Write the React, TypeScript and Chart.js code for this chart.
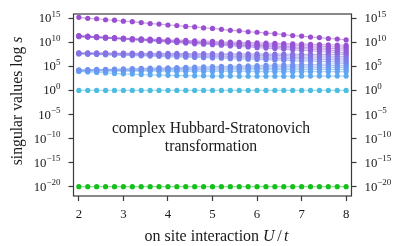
import React, { useEffect, useRef } from "react";
import { Chart, registerables } from "chart.js";

Chart.register(...registerables);

const U = [2, 2.2, 2.4, 2.6, 2.8, 3, 3.2, 3.4, 3.6, 3.8, 4, 4.2, 4.4, 4.6, 4.8, 5, 5.2, 5.4, 5.6, 5.8, 6, 6.2, 6.4, 6.6, 6.8, 7, 7.2, 7.4, 7.6, 7.8, 8];

// log10 of singular values, one array per singular value
const sTop = [15.2, 15.0, 14.9, 14.7, 14.6, 14.4, 14.3, 14.1, 13.9, 13.8, 13.6, 13.5, 13.3, 13.2, 13.0, 12.9, 12.7, 12.5, 12.4, 12.2, 12.1, 11.9, 11.8, 11.6, 11.4, 11.3, 11.1, 11.0, 10.8, 10.7, 10.5];
const sA1 = [11.4, 11.3, 11.2, 11.1, 11.0, 10.9, 10.8, 10.75, 10.7, 10.6, 10.5, 10.45, 10.4, 10.3, 10.25, 10.2, 10.1, 10.05, 10.0, 9.95, 9.9, 9.85, 9.8, 9.75, 9.7, 9.65, 9.6, 9.55, 9.5, 9.45, 9.4];
const sA2 = [11.3, 11.2, 11.1, 11.0, 10.9, 10.8, 10.7, 10.6, 10.5, 10.4, 10.3, 10.25, 10.2, 10.1, 10.0, 9.95, 9.9, 9.8, 9.75, 9.7, 9.6, 9.55, 9.5, 9.45, 9.4, 9.3, 9.25, 9.2, 9.1, 9.05, 9.0];
const sA3 = [11.3, 11.2, 11.1, 11.0, 10.9, 10.8, 10.7, 10.6, 10.5, 10.4, 10.3, 10.2, 10.1, 10.0, 9.9, 9.8, 9.7, 9.65, 9.55, 9.45, 9.4, 9.3, 9.2, 9.15, 9.05, 9.0, 8.9, 8.85, 8.75, 8.7, 8.6];
const sA4 = [11.2, 11.1, 11.0, 10.9, 10.8, 10.7, 10.6, 10.5, 10.4, 10.3, 10.2, 10.1, 10.0, 9.9, 9.8, 9.7, 9.6, 9.5, 9.4, 9.3, 9.2, 9.1, 9.0, 8.9, 8.8, 8.7, 8.6, 8.5, 8.4, 8.3, 8.2];
const sA5 = [11.2, 11.1, 11.0, 10.85, 10.75, 10.65, 10.5, 10.4, 10.3, 10.2, 10.05, 9.95, 9.85, 9.7, 9.6, 9.5, 9.4, 9.25, 9.15, 9.05, 8.9, 8.8, 8.7, 8.6, 8.45, 8.35, 8.25, 8.1, 8.0, 7.9, 7.8];
const sB1 = [7.8, 7.8, 7.8, 7.8, 7.75, 7.75, 7.75, 7.7, 7.7, 7.7, 7.7, 7.7, 7.65, 7.65, 7.65, 7.65, 7.6, 7.6, 7.6, 7.6, 7.6, 7.55, 7.55, 7.55, 7.55, 7.5, 7.5, 7.5, 7.5, 7.5, 7.5];
const sB2 = [7.75, 7.75, 7.7, 7.7, 7.65, 7.65, 7.6, 7.6, 7.6, 7.55, 7.55, 7.5, 7.5, 7.45, 7.45, 7.4, 7.4, 7.4, 7.35, 7.35, 7.3, 7.3, 7.25, 7.25, 7.2, 7.2, 7.2, 7.15, 7.15, 7.1, 7.1];
const sB3 = [7.7, 7.65, 7.6, 7.6, 7.55, 7.5, 7.5, 7.45, 7.4, 7.4, 7.35, 7.3, 7.3, 7.25, 7.2, 7.2, 7.15, 7.1, 7.1, 7.05, 7.0, 7.0, 6.95, 6.9, 6.9, 6.85, 6.8, 6.8, 6.75, 6.7, 6.7];
const sB4 = [7.65, 7.6, 7.55, 7.5, 7.45, 7.4, 7.4, 7.35, 7.3, 7.25, 7.2, 7.15, 7.1, 7.05, 7.0, 7.0, 6.95, 6.9, 6.85, 6.8, 6.75, 6.7, 6.65, 6.6, 6.6, 6.55, 6.5, 6.45, 6.4, 6.35, 6.3];
const sB5 = [7.6, 7.55, 7.5, 7.4, 7.35, 7.3, 7.25, 7.2, 7.15, 7.1, 7.0, 6.95, 6.9, 6.85, 6.8, 6.75, 6.7, 6.6, 6.55, 6.5, 6.45, 6.4, 6.35, 6.3, 6.2, 6.15, 6.1, 6.05, 6.0, 5.95, 5.9];
const sC1 = [4.3, 4.35, 4.4, 4.4, 4.45, 4.5, 4.55, 4.6, 4.65, 4.7, 4.7, 4.75, 4.8, 4.85, 4.9, 4.95, 5.0, 5.0, 5.05, 5.1, 5.15, 5.2, 5.25, 5.3, 5.3, 5.35, 5.4, 5.45, 5.5, 5.55, 5.6];
const sC2 = [4.2, 4.25, 4.25, 4.3, 4.35, 4.35, 4.4, 4.45, 4.45, 4.5, 4.55, 4.55, 4.6, 4.65, 4.65, 4.7, 4.75, 4.75, 4.8, 4.85, 4.85, 4.9, 4.95, 4.95, 5.0, 5.05, 5.05, 5.1, 5.15, 5.15, 5.2];
const sC3 = [4.15, 4.15, 4.2, 4.2, 4.2, 4.25, 4.25, 4.3, 4.3, 4.35, 4.35, 4.4, 4.4, 4.4, 4.45, 4.45, 4.5, 4.5, 4.55, 4.55, 4.6, 4.6, 4.6, 4.65, 4.65, 4.7, 4.7, 4.75, 4.75, 4.8, 4.8];
const sC4 = [4.1, 4.1, 4.1, 4.1, 4.15, 4.15, 4.15, 4.15, 4.2, 4.2, 4.2, 4.2, 4.2, 4.25, 4.25, 4.25, 4.25, 4.3, 4.3, 4.3, 4.3, 4.3, 4.35, 4.35, 4.35, 4.35, 4.35, 4.4, 4.4, 4.4, 4.4];
const sC5 = [4.05, 4.05, 4.05, 4.0, 4.0, 4.0, 4.0, 4.0, 4.0, 4.0, 3.95, 3.95, 3.95, 3.95, 3.95, 3.95, 3.95, 3.95, 3.95, 3.95, 3.9, 3.9, 3.9, 3.9, 3.9, 3.9, 3.9, 3.9, 3.9, 3.9, 3.9];
const sC6 = [3.95, 3.85, 3.75, 3.65, 3.55, 3.45, 3.4, 3.3, 3.25, 3.2, 3.15, 3.1, 3.1, 3.05, 3.05, 3.0, 3.0, 3.0, 2.95, 2.95, 2.95, 2.95, 2.95, 2.95, 2.95, 3.0, 3.0, 3.0, 3.0, 3.0, 3.0];
const sOne = [0, 0, 0, 0, 0, 0, 0, 0, 0, 0, 0, 0, 0, 0, 0, 0, 0, 0, 0, 0, 0, 0, 0, 0, 0, 0, 0, 0, 0, 0, 0];
const sZero = [-20, -20, -20, -20, -20, -20, -20, -20, -20, -20, -20, -20, -20, -20, -20, -20, -20, -20, -20, -20, -20, -20, -20, -20, -20, -20, -20, -20, -20, -20, -20];

const SERIES = [sTop, sA1, sA2, sA3, sA4, sA5, sB1, sB2, sB3, sB4, sB5, sC1, sC2, sC3, sC4, sC5, sC6, sOne, sZero];
const COLORS = [
  [154, 79, 208],
  [151, 82, 212], [148, 87, 214], [146, 91, 216], [143, 95, 218], [140, 99, 220],
  [134, 115, 226], [130, 120, 229], [126, 125, 232], [122, 130, 234], [118, 135, 236],
  [112, 146, 238], [108, 151, 239], [104, 156, 240], [100, 161, 241], [96, 166, 241], [92, 171, 241],
  [76, 189, 224],
  [21, 192, 29],
];

const Y_EXPONENTS = [-20, -15, -10, -5, 0, 5, 10, 15];
const X_TICKS = [2, 3, 4, 5, 6, 7, 8];

const FONT = '"Liberation Serif", "Times New Roman", serif';
const INK = "#1a1a1a";

function drawPow(ctx: CanvasRenderingContext2D, e: number, x: number, y: number, align: "left" | "right") {
  const base = "10";
  const exp = e < 0 ? "\u2212" + String(-e) : String(e);
  ctx.font = `12.8px ${FONT}`;
  const bw = ctx.measureText(base).width;
  ctx.font = `9px ${FONT}`;
  const ew = ctx.measureText(exp).width;
  const x0 = align === "right" ? x - bw - ew : x;
  ctx.textAlign = "left";
  ctx.textBaseline = "alphabetic";
  ctx.fillStyle = INK;
  ctx.font = `12.8px ${FONT}`;
  ctx.fillText(base, x0, y + 4);
  ctx.font = `9px ${FONT}`;
  ctx.fillText(exp, x0 + bw, y - 1.5);
}

const decorPlugin = {
  id: "decor",
  afterDraw(chart: any) {
    const ctx: CanvasRenderingContext2D = chart.ctx;
    const a = chart.chartArea;
    const ys = chart.scales.y;
    ctx.save();
    // frame
    ctx.strokeStyle = "#3a3a3a";
    ctx.lineWidth = 1.2;
    ctx.strokeRect(a.left, a.top, a.right - a.left, a.bottom - a.top);
    // y tick labels, both sides
    for (const e of Y_EXPONENTS) {
      const py = ys.getPixelForValue(Math.pow(10, e));
      drawPow(ctx, e, a.left - 13, py, "right");
      drawPow(ctx, e, a.right + 13, py, "left");
    }
    // y title
    ctx.save();
    ctx.translate(17, (a.top + a.bottom) / 2 - 4);
    ctx.rotate(-Math.PI / 2);
    ctx.textBaseline = "alphabetic";
    ctx.fillStyle = INK;
    const t1 = "singular values log ";
    ctx.font = `15.7px ${FONT}`;
    const w1 = ctx.measureText(t1).width;
    ctx.font = `italic 15.7px ${FONT}`;
    const w2 = ctx.measureText("s").width;
    const sx = -(w1 + w2) / 2;
    ctx.textAlign = "left";
    ctx.font = `15.7px ${FONT}`;
    ctx.fillText(t1, sx, 5);
    ctx.font = `italic 15.7px ${FONT}`;
    ctx.fillText("s", sx + w1, 5);
    ctx.restore();
    // x title
    ctx.fillStyle = INK;
    ctx.textAlign = "left";
    ctx.textBaseline = "alphabetic";
    const xt = "on site interaction ";
    ctx.font = `16px ${FONT}`;
    const xw = ctx.measureText(xt).width;
    ctx.font = `italic 16px ${FONT}`;
    const uw = ctx.measureText("U").width;
    const tw = ctx.measureText("t").width;
    ctx.font = `16px ${FONT}`;
    const slw = ctx.measureText("/").width;
    const gap = 2.5;
    const total = xw + uw + gap + slw + gap + tw;
    let xx = (a.left + a.right) / 2 + 4 - total / 2;
    const by = 241;
    ctx.fillText(xt, xx, by);
    xx += xw;
    ctx.font = `italic 16px ${FONT}`;
    ctx.fillText("U", xx, by);
    xx += uw + gap;
    ctx.font = `16px ${FONT}`;
    ctx.fillText("/", xx, by);
    xx += slw + gap;
    ctx.font = `italic 16px ${FONT}`;
    ctx.fillText("t", xx, by);
    // annotation
    ctx.font = `15.7px ${FONT}`;
    ctx.textAlign = "center";
    const cx = (a.left + a.right) / 2 - 1.5;
    ctx.fillText("complex Hubbard-Stratonovich", cx, 133);
    ctx.fillText("transformation", cx, 150.5);
    ctx.restore();
  },
};

export default function App() {
  const ref = useRef<HTMLCanvasElement | null>(null);
  useEffect(() => {
    const canvas = ref.current;
    if (!canvas) return;
    const datasets = SERIES.map((s, k) => {
      const [r, g, b] = COLORS[k];
      return {
        label: "s" + k,
        data: U.map((u, i) => ({ x: u, y: Math.pow(10, s[i]) })),
        borderColor: `rgba(${r},${g},${b},0.5)`,
        backgroundColor: `rgb(${r},${g},${b})`,
        pointBackgroundColor: `rgb(${r},${g},${b})`,
        pointBorderWidth: 0,
        pointRadius: 2.6,
        borderWidth: 1.2,
        yAxisID: "y",
      };
    });
    const tickGrid = {
      display: true,
      drawOnChartArea: false,
      drawTicks: true,
      tickLength: 5,
      tickColor: "#3a3a3a",
      tickWidth: 1.2,
    };
    const chart = new Chart(canvas, {
      type: "line",
      data: { datasets },
      plugins: [decorPlugin],
      options: {
        animation: false,
        responsive: false,
        maintainAspectRatio: false,
        layout: { padding: { top: 14, left: 0, right: 0, bottom: 0 } },
        plugins: { legend: { display: false }, tooltip: { enabled: false } },
        scales: {
          x: {
            type: "linear",
            min: 1.88,
            max: 8.12,
            grid: tickGrid,
            border: { display: false },
            afterBuildTicks: (s: any) => {
              s.ticks = X_TICKS.map((v) => ({ value: v }));
            },
            afterFit: (s: any) => {
              s.height = 50;
            },
            ticks: {
              font: { family: FONT, size: 12.8 },
              color: INK,
              padding: 6,
              maxRotation: 0,
              callback: (v: any) => String(v),
            },
          },
          y: {
            type: "logarithmic",
            position: "left",
            min: Math.pow(10, -21.93),
            max: Math.pow(10, 15.89),
            grid: tickGrid,
            border: { display: false },
            afterBuildTicks: (s: any) => {
              s.ticks = Y_EXPONENTS.map((e) => ({ value: Math.pow(10, e) }));
            },
            afterFit: (s: any) => {
              s.width = 73.5;
            },
            ticks: { display: false },
          },
          y2: {
            type: "logarithmic",
            position: "right",
            min: Math.pow(10, -21.93),
            max: Math.pow(10, 15.89),
            grid: tickGrid,
            border: { display: false },
            afterBuildTicks: (s: any) => {
              s.ticks = Y_EXPONENTS.map((e) => ({ value: Math.pow(10, e) }));
            },
            afterFit: (s: any) => {
              s.width = 63.5;
            },
            ticks: { display: false },
          },
        },
      } as any,
    });
    return () => chart.destroy();
  }, []);
  return (
    <div style={{ position: "absolute", left: 0, top: 0, width: 415, height: 246, background: "#fff" }}>
      <canvas ref={ref} width={415} height={246} style={{ width: 415, height: 246, display: "block" }} />
    </div>
  );
}
